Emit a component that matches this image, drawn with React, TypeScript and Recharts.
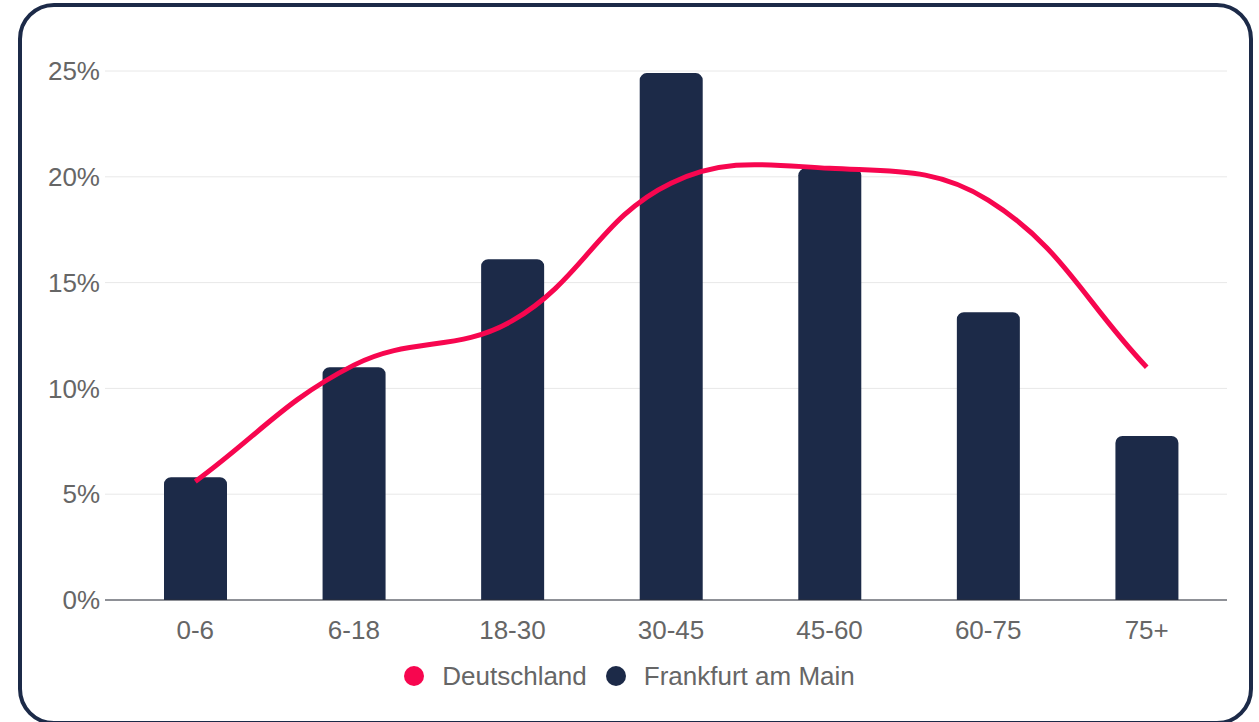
import { ComposedChart, Bar, Line, XAxis, YAxis, CartesianGrid, Legend } from "recharts";

const ageGroups = ["0-6", "6-18", "18-30", "30-45", "45-60", "60-75", "75+"];
const deutschland = [5.6, 11.1, 13.2, 19.7, 20.4, 18.9, 11.0];
const frankfurt = [5.8, 11.0, 16.1, 24.9, 20.4, 13.6, 7.75];
const yTicks = [0, 5, 10, 15, 20, 25];

const data = ageGroups.map((name, i) => ({
  name,
  deutschland: deutschland[i],
  frankfurt: frankfurt[i],
}));

const NAVY = "#1c2a48";
const PINK = "#f7064f";
const FONT = "'Liberation Sans', Arial, sans-serif";

// bezier spline like chart.js (tension 0.4)
const splineCurve = (tension: number) => (context: any) => {
  let pts: [number, number][] = [];
  return {
    areaStart() {},
    areaEnd() {},
    lineStart() {
      pts = [];
    },
    point(x: number, y: number) {
      pts.push([+x, +y]);
    },
    lineEnd() {
      const n = pts.length;
      if (!n) return;
      context.moveTo(pts[0][0], pts[0][1]);
      const cps = pts.map((p, i) => {
        const prev = pts[Math.max(0, i - 1)];
        const next = pts[Math.min(n - 1, i + 1)];
        const d01 = Math.hypot(p[0] - prev[0], p[1] - prev[1]);
        const d12 = Math.hypot(next[0] - p[0], next[1] - p[1]);
        const sum = d01 + d12 || 1;
        const fa = (tension * d01) / sum;
        const fb = (tension * d12) / sum;
        const dx = next[0] - prev[0];
        const dy = next[1] - prev[1];
        return {
          before: [p[0] - fa * dx, p[1] - fa * dy],
          after: [p[0] + fb * dx, p[1] + fb * dy],
        };
      });
      for (let i = 1; i < n; i++) {
        context.bezierCurveTo(
          cps[i - 1].after[0],
          cps[i - 1].after[1],
          cps[i].before[0],
          cps[i].before[1],
          pts[i][0],
          pts[i][1]
        );
      }
    },
  };
};

const LegendContent = () => (
  <div
    style={{
      display: "flex",
      justifyContent: "center",
      alignItems: "center",
      fontFamily: FONT,
      fontSize: 26,
      color: "#666",
      height: 30,
    }}
  >
    <span style={{ width: 20, height: 20, borderRadius: 10, background: PINK, display: "inline-block", marginRight: 18 }} />
    <span style={{ marginRight: 19 }}>Deutschland</span>
    <span style={{ width: 20, height: 20, borderRadius: 10, background: NAVY, display: "inline-block", marginRight: 18 }} />
    <span>Frankfurt am Main</span>
  </div>
);

const App = () => {
  return (
    <div style={{ position: "absolute", left: 0, top: 0, width: 1259, height: 722, background: "#fff", overflow: "hidden" }}>
      <div
        style={{
          position: "absolute",
          left: 18,
          top: 3,
          width: 1227,
          height: 714,
          border: `4px solid ${NAVY}`,
          borderRadius: 36,
        }}
      />
      <div style={{ position: "absolute", left: 0, top: 0 }}>
        <ComposedChart
          width={1259}
          height={722}
          data={data}
          margin={{ top: 71, right: 32, left: 0, bottom: 42 }}
        >
          <CartesianGrid vertical={false} stroke="#e8e8e8" />
          <XAxis
            dataKey="name"
            padding={{ left: 11, right: 1 }}
            tickLine={false}
            tickSize={0}
            tickMargin={21}
            height={50}
            axisLine={{ stroke: "#2a2f3a" }}
            tick={{ fill: "#666", fontSize: 26, fontFamily: FONT }}
          />
          <YAxis
            width={105}
            domain={[0, 25]}
            ticks={yTicks}
            tickFormatter={(v) => `${v}%`}
            axisLine={false}
            tickLine={false}
            tickSize={0}
            tickMargin={5}
            tick={{ fill: "#666", fontSize: 26, fontFamily: FONT }}
          />
          <Legend content={<LegendContent />} wrapperStyle={{ top: 661, left: 0, width: 1259 }} />
          <Bar dataKey="frankfurt" name="Frankfurt am Main" fill={NAVY} barSize={63} radius={[7, 7, 0, 0]} isAnimationActive={false} />
          <Line
            dataKey="deutschland"
            name="Deutschland"
            type={splineCurve(0.4) as any}
            stroke={PINK}
            strokeWidth={5}
            dot={false}
            activeDot={false}
            isAnimationActive={false}
          />
        </ComposedChart>
      </div>
    </div>
  );
};

export default App;
